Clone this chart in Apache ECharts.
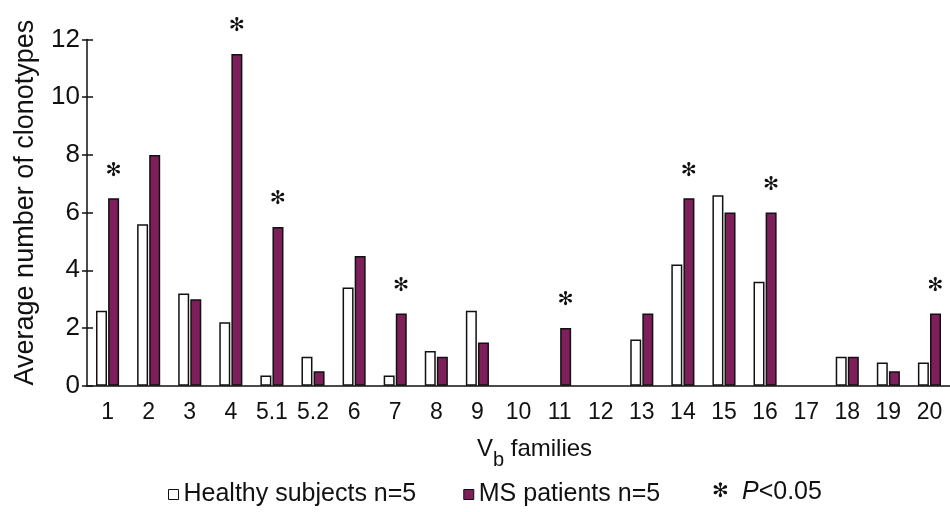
<!DOCTYPE html>
<html>
<head>
<meta charset="utf-8">
<script src="https://cdn.jsdelivr.net/npm/echarts@6/dist/echarts.min.js"></script>
<style>html,body{margin:0;padding:0;background:#fff;}#c{width:950px;height:512px;}</style>
</head>
<body>
<div id="c"></div>
<script>
var categories = ['1','2','3','4','5.1','5.2','6','7','8','9','10','11','12','13','14','15','16','17','18','19','20'];
var healthy = [2.6,5.6,3.2,2.2,0.35,1.0,3.4,0.35,1.2,2.6,null,null,null,1.6,4.2,6.6,3.6,null,1.0,0.8,0.8];
var msPatients = [6.5,8.0,3.0,11.5,5.5,0.5,4.5,2.5,1.0,1.5,null,2.0,null,2.5,6.5,6.0,6.0,null,1.0,0.5,2.5];
var significant = ['1','4','5.1','7','11','14','16','20'];
var yTicks = [0,2,4,6,8,10,12];

var FONT = 'Liberation Sans, Arial, sans-serif';
var STAR = '\u273B';
var PURPLE = '#7e1f5b';

var chart = echarts.init(document.getElementById('c'), null, {renderer:'canvas'});

var msData = msPatients.map(function(v, i){
  var sig = significant.indexOf(categories[i]) >= 0;
  return {value: v, label: {show: sig}};
});

chart.setOption({
  animation: false,
  backgroundColor: '#fff',
  grid: {left: 87, right: 0, top: 39.5, bottom: 126.3, containLabel: false},
  legend: {
    left: 168, top: 482, padding: 0,
    icon: 'rect', itemWidth: 10, itemHeight: 10, itemGap: 47,
    textStyle: {fontFamily: FONT, fontSize: 25, color: '#111'},
    itemStyle: {borderWidth: 1, borderColor: '#111'},
    data: ['Healthy subjects n=5', 'MS patients n=5']
  },
  xAxis: {
    type: 'category',
    data: categories,
    axisLine: {show: true, lineStyle: {color: '#111', width: 1.5}},
    axisTick: {show: false},
    axisLabel: {fontFamily: FONT, fontSize: 23, color: '#111', margin: 15, interval: 0},
    name: 'V{sub|b} families',
    nameLocation: 'middle',
    nameGap: 52,
    nameTextStyle: {
      fontFamily: FONT, fontSize: 24, color: '#111', padding: [0,0,0,32],
      rich: {sub: {fontFamily: FONT, fontSize: 20, color: '#111', verticalAlign: 'bottom', padding: [0,0,-9,0]}}
    }
  },
  yAxis: [{
    type: 'value', min: 0, max: 12, interval: 2,
    axisLine: {show: true, lineStyle: {color: '#111', width: 1.5}},
    axisTick: {show: true, length: 5, lineStyle: {color: '#111', width: 1.5}},
    axisLabel: {fontFamily: FONT, fontSize: 26, color: '#111', margin: 7,
      formatter: function(v){ return yTicks.indexOf(v) >= 0 ? String(v) : ''; }},
    splitLine: {show: false},
    name: 'Average number of clonotypes',
    nameLocation: 'middle',
    nameRotate: 90,
    nameGap: 48,
    nameTextStyle: {fontFamily: FONT, fontSize: 27, color: '#111', padding: [0,0,0,20]}
  }, {
    type: 'value', min: 0, max: 12, interval: 2, position: 'left',
    axisLine: {show: false},
    axisTick: {show: true, inside: true, length: 6, lineStyle: {color: '#111', width: 1.5}},
    axisLabel: {show: false},
    splitLine: {show: false}
  }],
  series: [{
    name: 'Healthy subjects n=5',
    type: 'bar',
    data: healthy,
    barWidth: 11,
    barGap: '10%',
    itemStyle: {color: '#ffffff', borderColor: '#111', borderWidth: 1.5}
  }, {
    name: 'MS patients n=5',
    type: 'bar',
    data: msData,
    barWidth: 11,
    itemStyle: {color: PURPLE, borderColor: '#111', borderWidth: 1.5},
    label: {show: false, position: 'top', distance: 18, formatter: STAR,
      fontFamily: 'DejaVu Sans', fontSize: 19, color: '#111'}
  }],
  graphic: [{
    type: 'text', left: 712, top: 482,
    style: {text: STAR, fontFamily: 'DejaVu Sans', fontSize: 20, fill: '#111'}
  }, {
    type: 'text', left: 742, top: 480,
    style: {
      text: '{i|P}<0.05',
      rich: {i: {fontFamily: FONT, fontStyle: 'italic', fontSize: 25, color: '#111'}},
      fontFamily: FONT, fontSize: 25, fill: '#111'
    }
  }]
});
</script>
</body>
</html>
